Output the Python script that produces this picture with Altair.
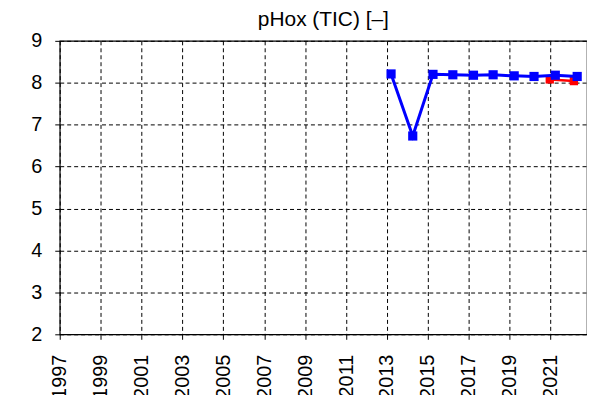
import altair as alt
import pandas as pd

# Blue series (main measurements)
blue_years = [2013.2, 2014.26, 2015.25, 2016.22, 2017.23, 2018.19, 2019.22, 2020.19, 2021.23, 2022.3]
blue_values = [8.21, 6.73, 8.20, 8.19, 8.18, 8.19, 8.165, 8.15, 8.18, 8.15]

# Red series
red_years = [2020.96, 2022.14]
red_values = [8.08, 8.04]

x_ticks = list(range(1997, 2023))
y_ticks = [2, 3, 4, 5, 6, 7, 8, 9]

df_blue = pd.DataFrame({"year": blue_years, "value": blue_values})
df_red = pd.DataFrame({"year": red_years, "value": red_values})

FONT = "Liberation Sans"

x_scale = alt.Scale(domain=[1997, 2022.78], nice=False, zero=False)
y_scale = alt.Scale(domain=[2, 9], nice=False, zero=False)

x_axis = alt.Axis(
    values=x_ticks,
    title=None,
    format="d",
    labelExpr="datum.value % 2 == 1 ? datum.label : ''",
    labelAngle=-90,
    labelFontSize=20,
    labelFont=FONT,
    labelColor="black",
    labelPadding=15,
    tickSize=5,
    tickColor="black",
    tickOpacity=alt.expr("datum.value % 2 == 1 ? 1 : 0"),
    grid=True,
    gridColor="black",
    gridDash=[4, 3],
    gridWidth=1,
    gridOpacity=1,
    domain=False,
)

y_axis = alt.Axis(
    values=y_ticks,
    title=None,
    labelFontSize=20,
    labelFont=FONT,
    labelColor="black",
    labelPadding=13,
    tickSize=5,
    tickColor="black",
    grid=True,
    gridColor="black",
    gridDash=[4, 3],
    gridWidth=1,
    gridOpacity=1,
    domain=False,
)

red_line = alt.Chart(df_red).mark_line(color="#ff0000", strokeWidth=2.5).encode(
    x=alt.X("year:Q", scale=x_scale, axis=x_axis),
    y=alt.Y("value:Q", scale=y_scale, axis=y_axis),
)
red_pts = alt.Chart(df_red).mark_point(
    shape="square", filled=True, color="#ff0000", size=70, opacity=1
).encode(x="year:Q", y="value:Q")

blue_line = alt.Chart(df_blue).mark_line(color="#0000ff", strokeWidth=3).encode(
    x="year:Q", y="value:Q"
)
blue_pts = alt.Chart(df_blue).mark_point(
    shape="square", filled=True, color="#0000ff", size=85, opacity=1
).encode(x="year:Q", y="value:Q")

chart = (
    alt.layer(red_line, red_pts, blue_line, blue_pts)
    .properties(
        width=530,
        height=295,
        title=alt.TitleParams(
            "pHox (TIC) [–]",
            font=FONT,
            fontSize=21,
            fontWeight="normal",
            color="black",
            anchor="middle",
            offset=1,
        ),
        padding={"left": 52, "top": 32, "right": 0, "bottom": 60},
        autosize=alt.AutoSizeParams(type="none"),
    )
    .configure(background="white")
    .configure_view(stroke="black", strokeWidth=1.2)
)

chart.save("out.html", embed_options={"renderer": "svg", "actions": False})
